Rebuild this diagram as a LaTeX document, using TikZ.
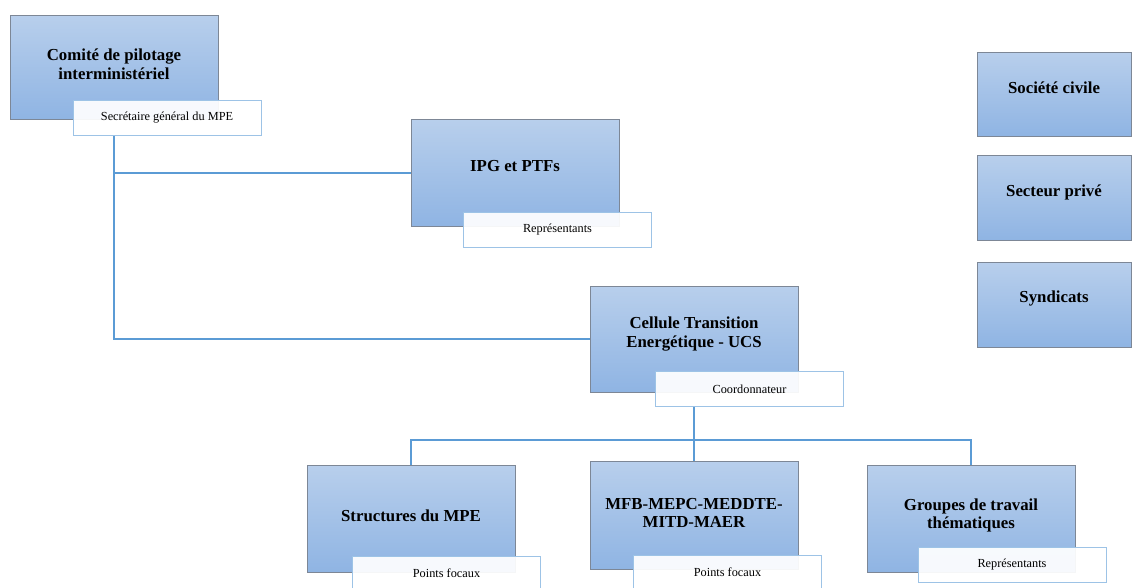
\documentclass[tikz,border=0pt]{standalone}
\usepackage{fontspec}
\setmainfont{Liberation Serif}
\usetikzlibrary{calc}
\definecolor{linecol}{RGB}{91,155,213}
\definecolor{boxtop}{RGB}{184,207,236}
\definecolor{boxbot}{RGB}{143,180,227}
\definecolor{boxdraw}{RGB}{125,135,150}
\definecolor{lbldraw}{RGB}{157,195,230}
\tikzset{
  orgbox/.style={draw=boxdraw, line width=0.8pt, top color=boxtop, bottom color=boxbot, inner sep=0pt},
  orgtext/.style={font=\fontsize{16.8}{18.5}\selectfont\bfseries, align=center, inner sep=0pt},
  lblbox/.style={draw=lbldraw, line width=0.9pt, fill=white, fill opacity=0.93, text opacity=1, minimum width=188pt, minimum height=35pt, inner sep=0pt, font=\fontsize{12.3}{14}\selectfont},
  conn/.style={draw=linecol, line width=1.4pt}
}
\begin{document}
\begin{tikzpicture}[x=1pt,y=-1pt]
\useasboundingbox (0,0) rectangle (1132,587);
\clip (0,0) rectangle (1132,587);
\fill[white] (0,0) rectangle (1132,587);
% boxes
\node[orgbox, minimum width=208pt, minimum height=104pt] (comite) at (114,67) {};
\node[orgbox, minimum width=208pt, minimum height=107pt] (ipg) at (515,173) {};
\node[orgbox, minimum width=208pt, minimum height=106pt] (cellule) at (694,339) {};
\node[orgbox, minimum width=208pt, minimum height=107pt] (struct) at (411,518.5) {};
\node[orgbox, minimum width=208pt, minimum height=108pt] (mfb) at (694,515) {};
\node[orgbox, minimum width=208pt, minimum height=107pt] (groupes) at (971,518.5) {};
\node[orgbox, minimum width=154pt, minimum height=84pt] (societe) at (1054,94) {};
\node[orgbox, minimum width=154pt, minimum height=85pt] (secteur) at (1054,197.5) {};
\node[orgbox, minimum width=154pt, minimum height=85pt] (syndic) at (1054,304.5) {};
% box texts
\node[orgtext] (comite-t) at ($(comite)+(0,-3)$) {Comité de pilotage\\interministériel};
\node[orgtext] (ipg-t) at ($(ipg)+(0,-7)$) {IPG et PTFs};
\node[orgtext] (cellule-t) at ($(cellule)+(0,-5)$) {Cellule Transition\\Energétique - UCS};
\node[orgtext] (struct-t) at ($(struct)+(0,-3)$) {Structures du MPE};
\node[orgtext] (mfb-t) at ($(mfb)+(0,-2)$) {MFB-MEPC-MEDDTE-\\MITD-MAER};
\node[orgtext] (groupes-t) at ($(groupes)+(0,-3)$) {Groupes de travail\\thématiques};
\node[orgtext] (societe-t) at ($(societe)+(0,-6)$) {Société civile};
\node[orgtext] (secteur-t) at ($(secteur)+(0,-5)$) {Secteur privé};
\node[orgtext] (syndic-t) at ($(syndic)+(0,-6)$) {Syndicats};
% connectors
\coordinate (bus) at (694,440);
\draw[conn] (comite |- 0,135) -- (comite |- cellule.west) -- (cellule.west);
\draw[conn] (comite |- ipg.west) -- (ipg.west);
\draw[conn] (cellule |- 0,406) -- (bus);
\draw[conn] (struct.north) -- (struct |- bus) -- (groupes |- bus) -- (groupes.north);
\draw[conn] (bus) -- (mfb.north);
% labels
\node[lblbox] (comite-l) at (167,117.5) {Secrétaire général du MPE};
\node[lblbox] (ipg-l) at (557.5,229.5) {Représentants};
\node[lblbox] (cellule-l) at (749.5,389) {Coordonnateur};
\node[lblbox] (struct-l) at (446.5,573.5) {Points focaux};
\node[lblbox] (mfb-l) at (727.5,572.5) {Points focaux};
\node[lblbox] (groupes-l) at (1012,565) {Représentants};
\end{tikzpicture}
\end{document}
